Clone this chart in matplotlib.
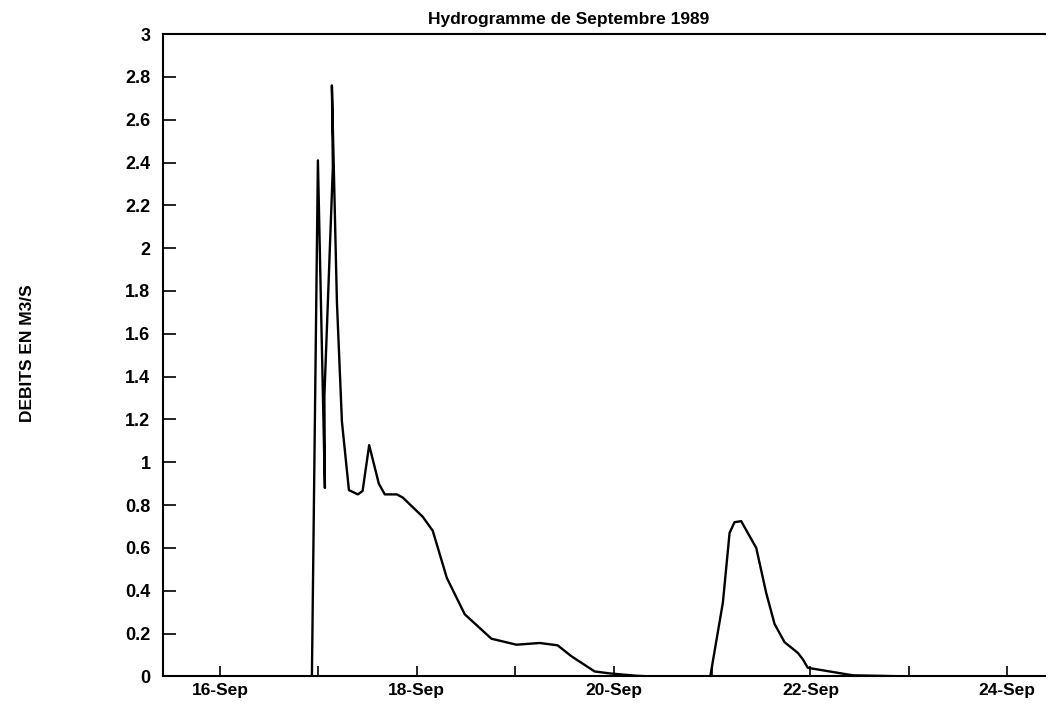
import matplotlib
matplotlib.use("Agg")
import matplotlib.pyplot as plt
from matplotlib.ticker import FixedLocator, NullFormatter

# Time in days of September 1989 (fractional), flow in m3/s
day = [15.44, 16.934, 16.995, 17.066, 17.061, 17.147, 17.137, 17.188, 17.239,
       17.310, 17.401, 17.449, 17.516, 17.614, 17.675, 17.797, 17.858, 18.061,
       18.162, 18.305, 18.487, 18.758, 19.012, 19.249, 19.431, 19.571, 19.807,
       19.959, 20.230, 20.366, 20.982, 21.110, 21.178, 21.228, 21.296, 21.449,
       21.550, 21.635, 21.736, 21.871, 21.922, 21.973, 22.430, 22.985]
flow = [0.0, 0.0, 2.41, 0.88, 1.31, 2.38, 2.76, 1.75, 1.19,
        0.87, 0.85, 0.866, 1.08, 0.90, 0.85, 0.85, 0.835, 0.745,
        0.68, 0.46, 0.29, 0.176, 0.148, 0.156, 0.145, 0.094, 0.023,
        0.014, 0.003, 0.0, 0.0, 0.345, 0.67, 0.72, 0.725, 0.60,
        0.39, 0.245, 0.16, 0.11, 0.08, 0.04, 0.005, 0.0]

major_days = [16, 18, 20, 22, 24]
major_labels = ["16-Sep", "18-Sep", "20-Sep", "22-Sep", "24-Sep"]
minor_days = [17, 19, 21, 23]
y_ticks = [0, 0.2, 0.4, 0.6, 0.8, 1, 1.2, 1.4, 1.6, 1.8, 2, 2.2, 2.4, 2.6, 2.8, 3]
y_labels = ["0", "0.2", "0.4", "0.6", "0.8", "1", "1.2", "1.4", "1.6", "1.8",
            "2", "2.2", "2.4", "2.6", "2.8", "3"]

plt.rcParams['font.family'] = ['Liberation Sans', 'DejaVu Sans']

fig = plt.figure(figsize=(10.51, 7.09), dpi=100)
ax = fig.add_axes([0.155, 0.046, 0.839, 0.906])

ax.plot(day, flow, color="black", linewidth=1.7)

ax.set_xlim(15.42, 24.38)
ax.set_ylim(0, 3)

ax.set_xticks(major_days)
ax.set_xticklabels(major_labels, fontsize=12.5, fontweight="bold")
ax.xaxis.set_minor_locator(FixedLocator(minor_days))
ax.xaxis.set_minor_formatter(NullFormatter())
ax.tick_params(axis="x", which="both", direction="in", length=7, width=1.2,
               pad=5, top=False)

ax.set_yticks(y_ticks)
ax.set_yticklabels(y_labels, fontsize=13, fontweight="bold")
ax.tick_params(axis="y", direction="in", length=9, width=1.2, pad=9, right=False)

for s in ["left", "bottom", "top"]:
    ax.spines[s].set_linewidth(1.5)
ax.spines["right"].set_visible(False)

fig.text(0.541, 0.972, "Hydrogramme de Septembre 1989", fontsize=12.5,
         fontweight="bold", ha="center", va="center")
fig.text(0.026, 0.502, "DEBITS EN M3/S", rotation=90, fontsize=12.5,
         fontweight="bold", ha="center", va="center")

fig.savefig("out.png", dpi=100)
